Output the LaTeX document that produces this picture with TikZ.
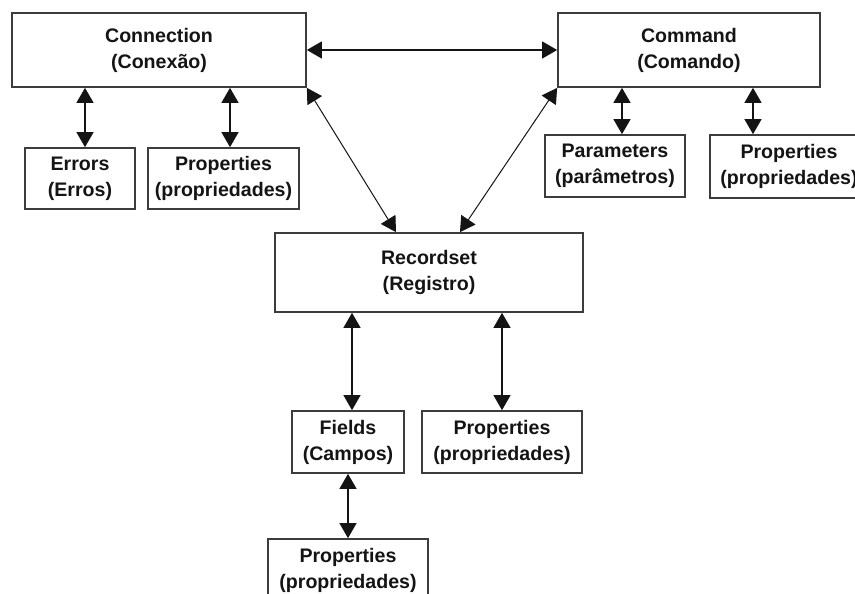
\documentclass[tikz,border=0pt]{standalone}
\usepackage{fontspec}
\setmainfont{Liberation Sans}
\usetikzlibrary{arrows.meta,positioning}
\definecolor{Ink}{HTML}{141414}
\definecolor{Frame}{HTML}{3C3C3C}
\tikzset{
  objbox/.style={draw=Frame,line width=1.7pt,fill=white,align=center,inner sep=0pt,text=Ink,font=\fontsize{19.6}{26}\selectfont\bfseries},
  link/.style={{Triangle[length=15pt,width=17pt]}-{Triangle[length=15pt,width=17pt]},line width=1.3pt,draw=Ink},
  slimLink/.style={link,line width=1pt}
}
\begin{document}
\begin{tikzpicture}[x=1pt,y=-1pt]
\useasboundingbox (0,0) rectangle (855,594);
\node[objbox,minimum width=294pt,minimum height=74pt] (conn) at (159,50) {Connection\\(Conexão)};
\node[objbox,minimum width=262pt,minimum height=74pt] (cmd) at (689,50) {Command\\(Comando)};
\node[objbox,minimum width=110pt,minimum height=61pt] (err) at (80,178.5) {Errors\\(Erros)};
\node[objbox,minimum width=151pt,minimum height=61pt] (connprop) at (223.5,178.5) {Properties\\(propriedades)};
\node[objbox,minimum width=140pt,minimum height=62pt] (param) at (615,166) {Parameters\\(parâmetros)};
\node[objbox,minimum width=158pt,minimum height=63pt] (cmdprop) at (789,166.5) {Properties\\(propriedades)};
\node[objbox,minimum width=308pt,minimum height=79pt] (rec) at (429,272.5) {Recordset\\(Registro)};
\node[objbox,minimum width=112pt,minimum height=62pt] (fld) at (348,442) {Fields\\(Campos)};
\node[objbox,minimum width=160pt,minimum height=62pt] (recprop) at (502,442) {Properties\\(propriedades)};
\node[objbox,minimum width=160pt,minimum height=62pt] (fldprop) at (348,570) {Properties\\(propriedades)};
\draw[link] (conn)--(cmd);
\draw[link] ([xshift=5pt]err.north)--([xshift=5pt]err.north |- conn.south);
\draw[link] ([xshift=6.5pt]connprop.north)--([xshift=6.5pt]connprop.north |- conn.south);
\draw[link] ([xshift=7pt]param.north)--([xshift=7pt]param.north |- cmd.south);
\draw[link] ([xshift=-36pt]cmdprop.north)--([xshift=-36pt]cmdprop.north |- cmd.south);
\draw[slimLink] (conn.south east)--([xshift=-33pt]rec.north);
\draw[slimLink] (cmd.south west)--([xshift=31pt]rec.north);
\draw[link] ([xshift=-77pt]rec.south)--([xshift=-77pt]rec.south |- fld.north);
\draw[link] (recprop.north)--(recprop.north |- rec.south);
\draw[link] (fld)--(fldprop);
\end{tikzpicture}
\end{document}
